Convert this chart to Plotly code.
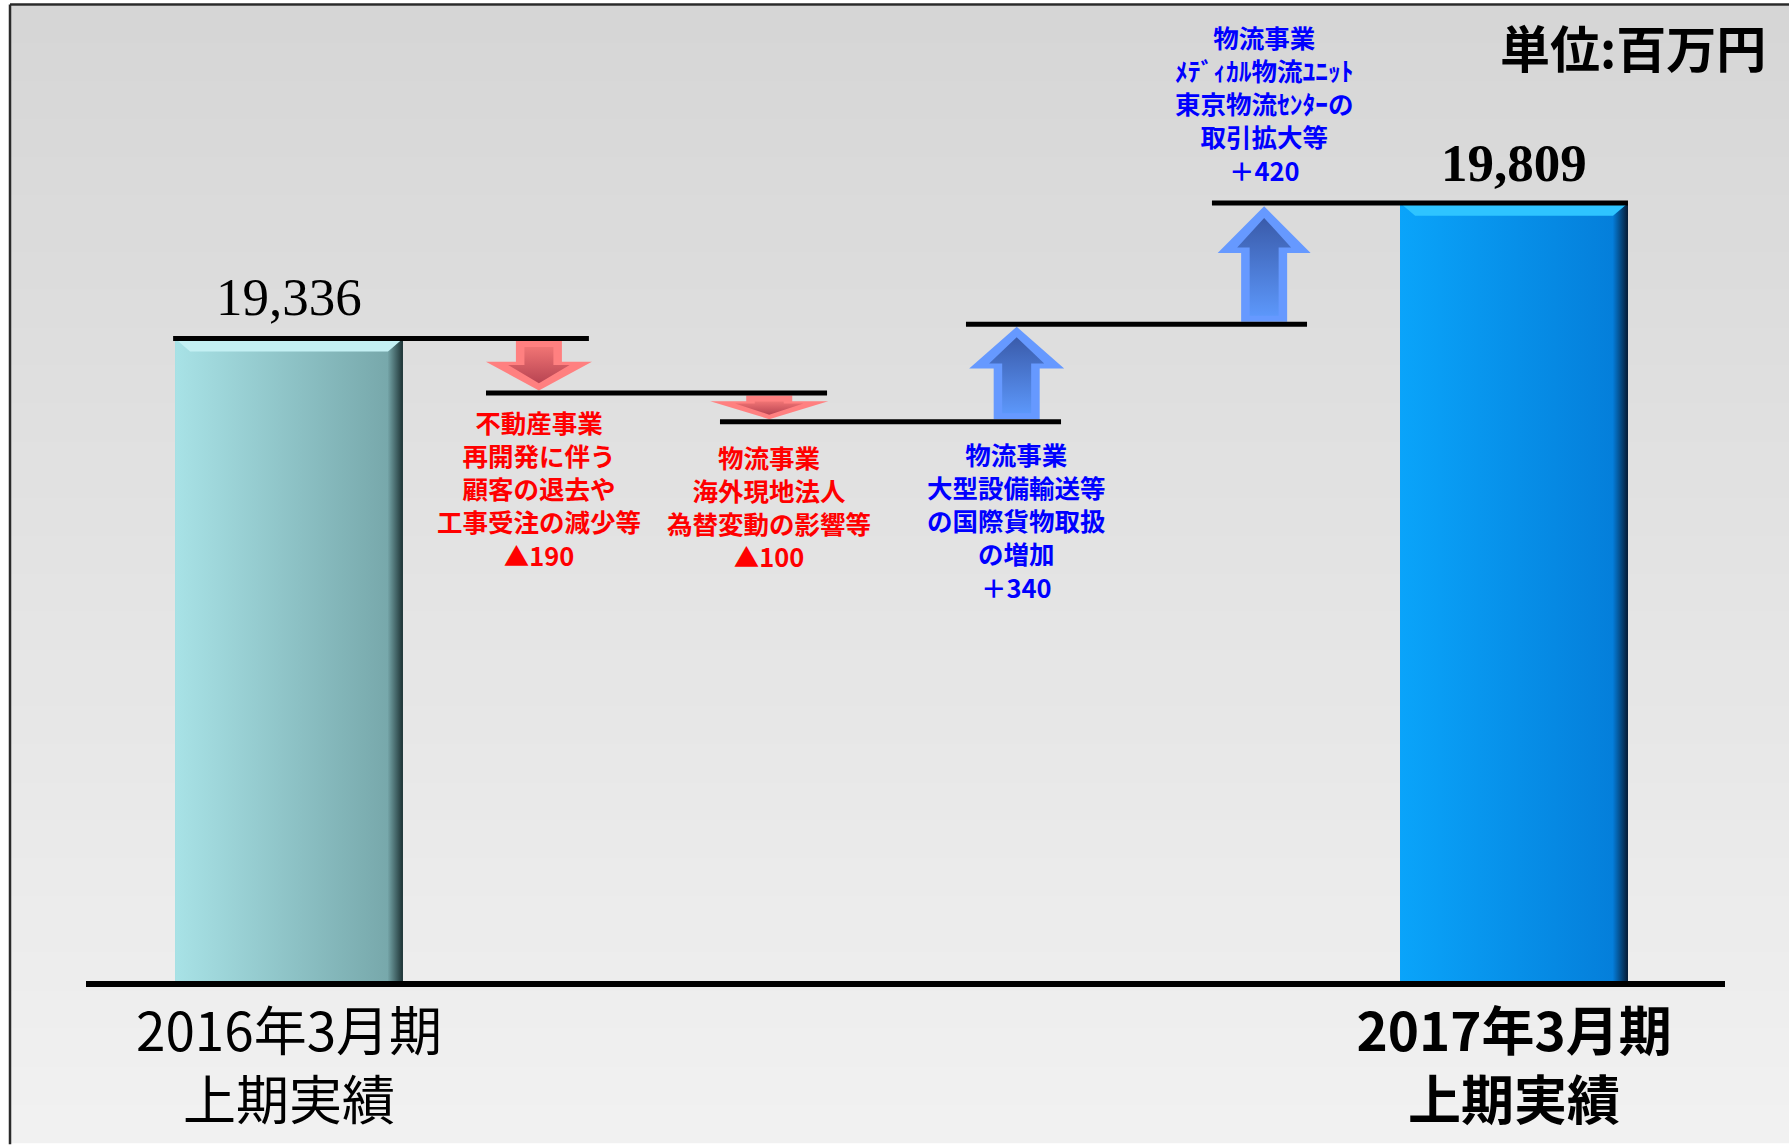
import plotly.graph_objects as go

# ---------------- data ----------------
period_labels = ["2016年3月期<br>上期実績", "2017年3月期<br>上期実績"]
start_value = 19336
end_value = 19809
change_values = [-190, -100, 340, 420]
change_texts = [
    "不動産事業<br>再開発に伴う<br>顧客の退去や<br>工事受注の減少等",
    "物流事業<br>海外現地法人<br>為替変動の影響等",
    "物流事業<br>大型設備輸送等<br>の国際貨物取扱<br>の増加",
    "物流事業<br>ﾒﾃﾞｨｶﾙ物流ﾕﾆｯﾄ<br>東京物流ｾﾝﾀｰの<br>取引拡大等",
]
unit_text = "単位:百万円"

# ---------------- layout geometry / styles ----------------
W, H = 1789, 1147
ML, MR, MT, MB = 86, 64, 100, 162
PW, PH = W - ML - MR, H - MT - MB
X_RANGE = [-0.8286, 5.861]
Y_RANGE = [17095, 20168]
KX = PW / (X_RANGE[1] - X_RANGE[0])   # px per x unit
KY = PH / (Y_RANGE[1] - Y_RANGE[0])   # px per value unit


def pxx(p):
    return (p - ML) / PW


def pxy(p):
    return (H - MB - p) / PH


JP = "Noto Sans CJK JP"
SERIF = "Liberation Serif"
BAR_W = 0.93
BAR_COLORS = ["#8CC6CA", "#0592EE"]
BAR_GRAD = [[[0, "#A8E2E6"], [1, "#74A4A7"]], [[0, "#0AA4FA"], [1, "#047CD8"]]]
BAR_TOP = ["#C4F0F3", "#2EC4FF"]
BAR_EDGE = ["#1C3133", "#061A33"]
ARROW_X = [1.02, 1.96, 2.97, 3.98]
LINE_SPANS = [(-0.473, 1.224), (0.804, 2.196), (1.759, 3.151), (2.763, 4.155), (3.767, 5.465)]
HEAD_LEN_PX = [29, 18, 42, 47]
HEAD_W_PX = [106, 118, 95, 93]
STEM_W_PX = 46
LABEL_SIDE = ["below", "below", "below", "above"]
LABEL_SHIFT = [-8, -14, -11, 14]

n = len(change_values)
x_end = n + 1
levels = [start_value]
for c in change_values:
    levels.append(levels[-1] + c)
line_levels = levels[:-1] + [end_value]

fig = go.Figure()

# ---- bars ----
bar_x = [0, x_end]
bar_y = [start_value, end_value]
fig.add_trace(go.Bar(x=bar_x, y=bar_y, width=BAR_W,
                     marker=dict(color=BAR_COLORS, line=dict(width=0)),
                     hoverinfo="skip"))

for i, (bx, by) in enumerate(zip(bar_x, bar_y)):
    xl, xr = bx - BAR_W / 2, bx + BAR_W / 2
    # body gradient
    fig.add_trace(go.Scatter(x=[xl, xr, xr, xl, xl], y=[0, 0, by, by, 0],
                             mode="lines", line=dict(width=0), fill="toself",
                             fillgradient=dict(type="horizontal", colorscale=BAR_GRAD[i]),
                             hoverinfo="skip"))
    # right dark bevel
    ex = 15 / KX
    ey = 13 / KY
    fig.add_trace(go.Scatter(x=[xr - ex, xr, xr, xr - ex, xr - ex], y=[0, 0, by, by - ey, 0],
                             mode="lines", line=dict(width=0), fill="toself",
                             fillgradient=dict(type="horizontal",
                                               colorscale=[[0, BAR_GRAD[i][1][1]], [1, BAR_EDGE[i]]]),
                             hoverinfo="skip"))
    # top light bevel
    fig.add_trace(go.Scatter(x=[xl, xr, xr - ex, xl + ex, xl], y=[by, by, by - ey, by - ey, by],
                             mode="lines", line=dict(width=0), fill="toself",
                             fillcolor=BAR_TOP[i], hoverinfo="skip"))

# ---- arrows ----
for i, c in enumerate(change_values):
    cx = ARROW_X[i]
    v0, v1 = levels[i], levels[i + 1]
    d = 1 if c > 0 else -1
    off = 2.5 / KY
    base = v0 + d * off
    tip = v1 - d * off
    h = HEAD_LEN_PX[i] / KY
    hw = HEAD_W_PX[i] / 2 / KX
    sw = STEM_W_PX / 2 / KX
    hb = tip - d * h
    outer_x = [cx - sw, cx - sw, cx - hw, cx, cx + hw, cx + sw, cx + sw, cx - sw]
    outer_y = [base, hb, hb, tip, hb, hb, base, base]
    if c > 0:
        outer_col = "#6699FF"
        inner_cs = [[0, "#5C97FA"], [1, "#3A5BAA"]]
    else:
        outer_col = "#FF8080"
        inner_cs = [[0, "#B84452"], [1, "#F07474"]]
    fig.add_trace(go.Scatter(x=outer_x, y=outer_y, mode="lines", line=dict(width=0),
                             fill="toself", fillcolor=outer_col, hoverinfo="skip"))
    si = sw * 0.63
    hi = hw * 0.58
    tip_i = tip - d * 0.25 * h
    hb_i = hb + d * 0.12 * h
    base_i = base + d * 6 / KY
    inner_x = [cx - si, cx - si, cx - hi, cx, cx + hi, cx + si, cx + si, cx - si]
    inner_y = [base_i, hb_i, hb_i, tip_i, hb_i, hb_i, base_i, base_i]
    fig.add_trace(go.Scatter(x=inner_x, y=inner_y, mode="lines", line=dict(width=0),
                             fill="toself",
                             fillgradient=dict(type="vertical", colorscale=inner_cs),
                             hoverinfo="skip"))

shapes = []
# background gradient bands
NB = 60
top_px, bot_px = 5, H
c0, c1 = (0xD6, 0xD6, 0xD6), (0xF1, 0xF1, 0xF1)
for k in range(NB):
    t = k / (NB - 1)
    col = "rgb(%d,%d,%d)" % tuple(round(a + (b - a) * t) for a, b in zip(c0, c1))
    y_a = top_px + (bot_px - top_px) * k / NB
    y_b = top_px + (bot_px - top_px) * (k + 1) / NB + 1
    shapes.append(dict(type="rect", xref="paper", yref="paper", layer="below",
                       x0=pxx(10), x1=pxx(W + 2), y0=pxy(y_a), y1=pxy(y_b),
                       line=dict(width=0), fillcolor=col))
# frame
shapes.append(dict(type="line", xref="paper", yref="paper", layer="below",
                   x0=pxx(10), x1=pxx(W + 2), y0=pxy(4), y1=pxy(4),
                   line=dict(color="#2A2A2A", width=2.5)))
shapes.append(dict(type="line", xref="paper", yref="paper", layer="below",
                   x0=pxx(10), x1=pxx(10), y0=pxy(4), y1=pxy(H + 2),
                   line=dict(color="#2A2A2A", width=2.5)))
# step lines
for (xa, xb), lv in zip(LINE_SPANS, line_levels):
    shapes.append(dict(type="line", xref="x", yref="y", x0=xa, x1=xb, y0=lv, y1=lv,
                       line=dict(color="black", width=5)))

annotations = []
# bar value labels
annotations.append(dict(x=0, y=start_value, xref="x", yref="y", text=f"{start_value:,}",
                        showarrow=False, yshift=42, yanchor="middle",
                        font=dict(family=SERIF, size=53, color="black")))
annotations.append(dict(x=x_end, y=end_value, xref="x", yref="y", text=f"<b>{end_value:,}</b>",
                        showarrow=False, yshift=40, yanchor="middle",
                        font=dict(family=SERIF, size=53, color="black")))
# change labels
for i, c in enumerate(change_values):
    num = f"▲{abs(c)}" if c < 0 else f"＋{c}"
    lines = change_texts[i].split("<br>") + [num]
    txt = "<br>".join(f"<b>{l}</b>" for l in lines)
    col = "#FF0000" if c < 0 else "#0000FF"
    lo, hi_ = min(levels[i], levels[i + 1]), max(levels[i], levels[i + 1])
    if LABEL_SIDE[i] == "below":
        annotations.append(dict(x=ARROW_X[i], y=lo, xref="x", yref="y", text=txt, showarrow=False,
                                yanchor="top", yshift=LABEL_SHIFT[i], align="center",
                                font=dict(family=JP, size=25.5, color=col)))
    else:
        annotations.append(dict(x=ARROW_X[i], y=hi_, xref="x", yref="y", text=txt, showarrow=False,
                                yanchor="bottom", yshift=LABEL_SHIFT[i], align="center",
                                font=dict(family=JP, size=25.5, color=col)))
# unit
annotations.append(dict(x=pxx(1768), y=pxy(46), xref="paper", yref="paper", text=f"<b>{unit_text}</b>",
                        showarrow=False, xanchor="right", yanchor="middle",
                        font=dict(family=JP, size=50, color="black")))

tick_text = [
    period_labels[0],
    "<br>".join(f"<b>{l}</b>" for l in period_labels[1].split("<br>")),
]

fig.update_layout(
    width=W, height=H,
    margin=dict(l=ML, r=MR, t=MT, b=MB, pad=0),
    paper_bgcolor="white", plot_bgcolor="rgba(0,0,0,0)",
    showlegend=False,
    shapes=shapes, annotations=annotations,
    xaxis=dict(range=X_RANGE, tickvals=bar_x, ticktext=tick_text, showgrid=False, zeroline=False,
               showline=True, linecolor="black", linewidth=6, ticks="",
               tickfont=dict(family=JP, size=53, color="black"), fixedrange=True),
    yaxis=dict(range=Y_RANGE, visible=False, showgrid=False, zeroline=False, fixedrange=True),
)

fig.write_html("out.html", config={"displayModeBar": False},
               post_script="document.body.style.margin='0';document.body.style.padding='0';"
                           "document.body.style.overflow='hidden';")
